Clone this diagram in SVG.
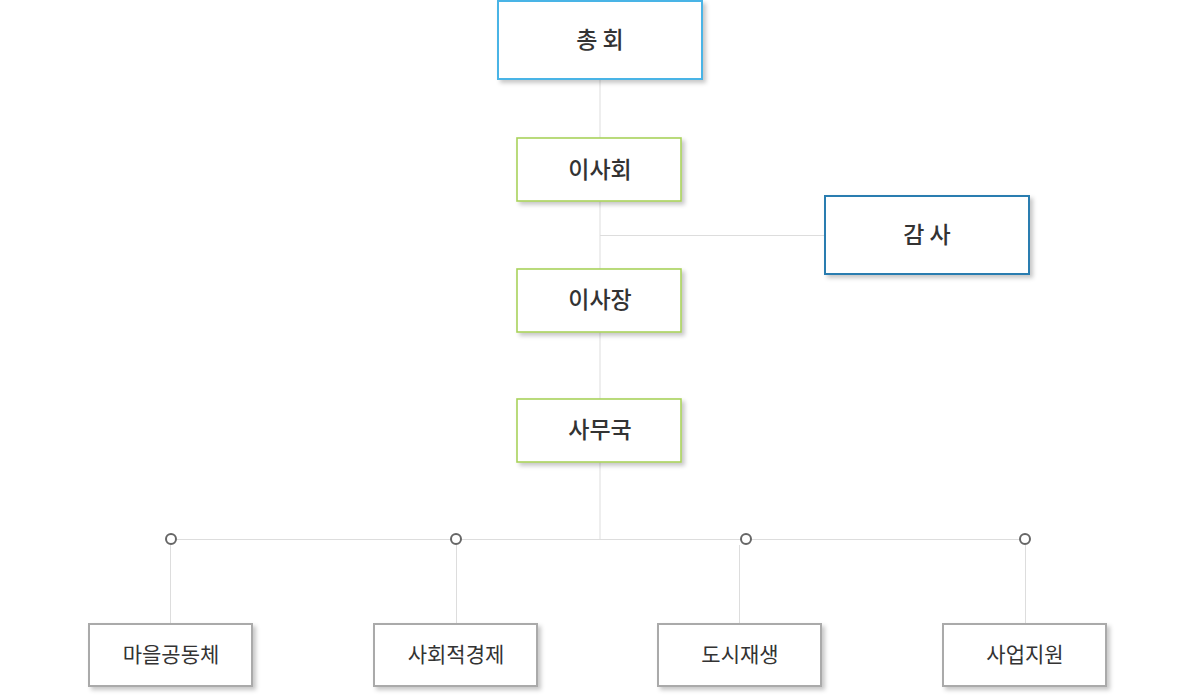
<svg xmlns="http://www.w3.org/2000/svg" width="1200" height="700" viewBox="0 0 1200 700">
<defs>
<filter id="sh" x="-10%" y="-10%" width="130%" height="140%">
<feDropShadow dx="3" dy="3" stdDeviation="2" flood-color="#000" flood-opacity="0.22"/>
</filter>
</defs>
<style>
.box{fill:#fff;filter:url(#sh)}
.top{stroke:#4ab4e6;stroke-width:2}
.grn{stroke:#a9d35a;stroke-width:1.6}
.aud{stroke:#2a7db0;stroke-width:2}
.sub{stroke:#aaaaaa;stroke-width:2}
.t1{font-family:"Noto Sans CJK KR","Noto Sans",sans-serif;font-size:23px;font-weight:500;fill:#333;text-anchor:middle;dominant-baseline:central}
.t2{font-family:"Noto Sans CJK KR","Noto Sans",sans-serif;font-size:21px;font-weight:400;fill:#333;text-anchor:middle;dominant-baseline:central}
.ln{stroke:#dddddd;stroke-width:1;fill:none}
.dot{fill:#fff;stroke:#666;stroke-width:2}
</style>
<g id="connectors">
<line class="ln" x1="600" y1="79" x2="600" y2="539"/>
<line class="ln" x1="600" y1="235.5" x2="825" y2="235.5"/>
<line class="ln" x1="171" y1="539.5" x2="1025" y2="539.5"/>
<line class="ln" x1="170.5" y1="545" x2="170.5" y2="624"/>
<line class="ln" x1="456.5" y1="545" x2="456.5" y2="624"/>
<line class="ln" x1="739.5" y1="545" x2="739.5" y2="624"/>
<line class="ln" x1="1025.5" y1="545" x2="1025.5" y2="624"/>
<circle class="dot" cx="171" cy="539" r="5"/>
<circle class="dot" cx="456" cy="539" r="5"/>
<circle class="dot" cx="746" cy="539" r="5"/>
<circle class="dot" cx="1025" cy="539" r="5"/>
</g>
<g id="n-general">
<rect class="box top" x="498" y="1" width="204" height="78"/>
<text class="t1" x="600" y="38">총 회</text>
</g>
<g id="n-board">
<rect class="box grn" x="517" y="138" width="164" height="63"/>
<text class="t1" x="600" y="168">이사회</text>
</g>
<g id="n-audit">
<rect class="box aud" x="825" y="196" width="204" height="78"/>
<text class="t1" x="927" y="233">감 사</text>
</g>
<g id="n-chair">
<rect class="box grn" x="517" y="269" width="164" height="63"/>
<text class="t1" x="600" y="298">이사장</text>
</g>
<g id="n-office">
<rect class="box grn" x="517" y="399" width="164" height="63"/>
<text class="t1" x="600" y="428">사무국</text>
</g>
<g id="n-community">
<rect class="box sub" x="89" y="624" width="163" height="62"/>
<text class="t2" x="171" y="653">마을공동체</text>
</g>
<g id="n-social">
<rect class="box sub" x="374" y="624" width="163" height="62"/>
<text class="t2" x="456" y="653">사회적경제</text>
</g>
<g id="n-urban">
<rect class="box sub" x="658" y="624" width="163" height="62"/>
<text class="t2" x="740" y="653">도시재생</text>
</g>
<g id="n-support">
<rect class="box sub" x="943" y="624" width="163" height="62"/>
<text class="t2" x="1025" y="653">사업지원</text>
</g>
</svg>
